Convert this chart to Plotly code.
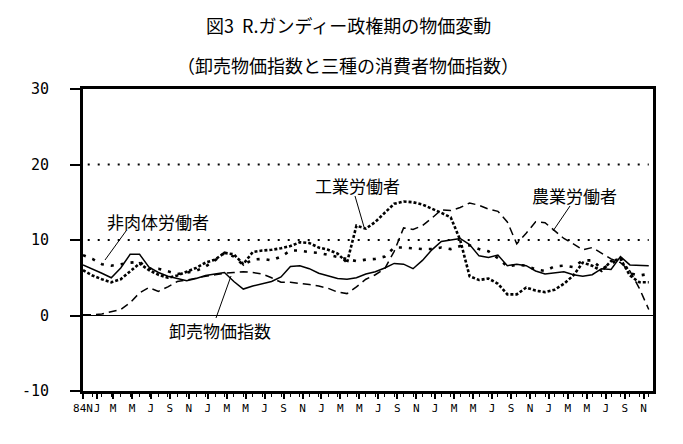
import plotly.graph_objects as go

# months since Nov 1984 (0 = 84N)
months = list(range(61))

wpi = [6.7, 6.2, 5.6, 5.0, 6.3, 8.1, 8.1, 6.4, 5.7, 5.2, 4.9, 4.6, 4.9, 5.3, 5.5, 5.7, 4.5, 3.5, 3.9, 4.2,
       4.5, 5.1, 6.5, 6.6, 6.2, 5.6, 5.2, 4.9, 4.8, 5.0, 5.5, 5.8, 6.3, 6.9, 6.8, 6.2, 7.3, 8.7, 9.8, 10.0,
       10.2, 9.4, 7.9, 7.7, 8.0, 6.6, 6.8, 6.6, 5.9, 5.5, 5.6, 5.8, 5.4, 5.2, 5.4, 6.2, 6.1, 7.8, 6.7, 6.6, 6.6]

cpi_industrial = [6.0, 5.3, 4.8, 4.4, 4.8, 5.8, 6.9, 6.0, 5.4, 5.0, 5.3, 5.8, 6.3, 7.0, 7.4, 8.3, 8.1, 6.8, 8.4, 8.6,
                  8.7, 8.9, 9.2, 9.7, 9.6, 9.0, 8.7, 8.2, 7.0, 11.9, 11.5, 12.4, 13.6, 14.8, 15.1, 15.0, 14.7, 14.2, 13.6, 13.0,
                  10.0, 5.2, 4.7, 4.9, 4.2, 2.8, 2.8, 3.7, 3.3, 3.1, 3.4, 4.2, 5.3, 7.0, 6.6, 5.9, 7.2, 7.5, 5.3, 4.4, 4.4]

cpi_nonmanual = [8.0, 7.5, 6.8, 6.6, 6.8, 7.0, 7.1, 6.2, 6.2, 5.9, 5.5, 5.7, 5.9, 6.5, 7.3, 8.3, 7.8, 6.7, 7.4, 7.5,
                 7.3, 7.8, 8.6, 8.6, 8.4, 8.3, 8.0, 7.7, 7.4, 7.2, 7.4, 7.5, 7.8, 9.0, 9.0, 8.9, 8.8, 8.8, 9.0, 8.8,
                 9.2, 9.3, 8.8, 8.5, 7.6, 6.5, 6.7, 6.6, 6.1, 5.9, 6.5, 6.6, 6.4, 7.3, 7.3, 6.2, 6.8, 7.7, 5.6, 5.3, 5.5]

cpi_agri = [0.1, 0.1, 0.2, 0.5, 0.8, 1.7, 3.0, 3.7, 3.2, 3.8, 4.5, 4.7, 5.0, 5.2, 5.4, 5.6, 5.7, 5.8, 5.7, 5.5,
            5.0, 4.4, 4.4, 4.3, 4.1, 3.9, 3.6, 3.1, 2.9, 3.8, 4.8, 5.4, 6.2, 8.5, 11.6, 11.4, 11.9, 12.9, 14.0, 13.9,
            14.3, 14.9, 14.6, 14.1, 13.8, 12.4, 9.5, 10.9, 12.4, 12.3, 11.3, 10.2, 9.5, 8.7, 9.0, 8.2, 7.5, 7.0, 5.9, 3.6, 0.8]

x_labels = ["84N"] + ["J", "M", "M", "J", "S", "N"] * 5
y_ticks = [-10, 0, 10, 20, 30]
ref_levels = [10, 20]

title = "図3  R.ガンディー政権期の物価変動"
subtitle = "（卸売物価指数と三種の消費者物価指数）"

W, H = 683, 444
L, R, T, B = 75, 38, 81, 61
PW, PH = W - L - R, H - T - B


def px(x):
    return (x - L) / PW


def py(y):
    return (H - B - y) / PH


fig = go.Figure()
fig.add_trace(go.Scatter(x=months, y=wpi, mode="lines", name="卸売物価指数",
                         line=dict(color="black", width=1.5)))
fig.add_trace(go.Scatter(x=months, y=cpi_industrial, mode="lines", name="工業労働者",
                         line=dict(color="black", width=2.6, dash="3px,2px")))
fig.add_trace(go.Scatter(x=months, y=cpi_nonmanual, mode="lines", name="非肉体労働者",
                         line=dict(color="black", width=2.6, dash="3px,7px")))
fig.add_trace(go.Scatter(x=months, y=cpi_agri, mode="lines", name="農業労働者",
                         line=dict(color="black", width=1.5, dash="8px,5px")))

tickvals = [0.0] + [1.17 + 2.01 * k for k in range(len(x_labels) - 1)]
tickvals[1] = 1.5

fig.update_xaxes(range=[0, 60.45], tickvals=tickvals, ticktext=x_labels, tickangle=0,
                 ticks="outside", ticklen=5, tickwidth=1.5, tickcolor="black",
                 minor=dict(dtick=1, tick0=0, ticks="outside", ticklen=3, tickcolor="black", tickwidth=1),
                 showgrid=False, zeroline=False,
                 showline=True, linecolor="black", linewidth=2.5, mirror=True,
                 tickfont=dict(family="DejaVu Sans Mono", size=11, color="black"))
fig.update_yaxes(range=[-10, 30], tickvals=y_ticks, ticktext=[str(v) for v in y_ticks],
                 ticks="outside", ticklen=10, tickwidth=1.5, tickcolor="black",
                 showgrid=False, zeroline=False,
                 showline=True, linecolor="black", linewidth=3, mirror=True,
                 ticklabelstandoff=18,
                 tickfont=dict(family="DejaVu Sans Mono", size=15, color="black"))

fig.add_shape(type="line", xref="paper", yref="y", x0=0, x1=1, y0=0, y1=0,
              line=dict(color="black", width=1))
for lv in ref_levels:
    fig.add_shape(type="line", xref="x", yref="y", x0=0.5, x1=60, y0=lv, y1=lv,
                  line=dict(color="black", width=1.8, dash="2px,8px"))

ann_font = dict(family="Noto Sans CJK JP", size=17, color="black")
anns = [
    dict(text="非肉体労働者", x=150, y=213),
    dict(text="工業労働者", x=349, y=177),
    dict(text="農業労働者", x=566, y=187),
    dict(text="卸売物価指数", x=212, y=322),
]
for a in anns:
    fig.add_annotation(text=a["text"], xref="paper", yref="paper",
                       x=px(a["x"]), y=py(a["y"]), xanchor="center", yanchor="middle",
                       showarrow=False, font=ann_font)

pointers = [((118, 223), (97, 252)), ((347, 188), (356, 219)), ((562, 198), (545, 223)), ((208, 310), (223, 268))]
for (x0, y0), (x1, y1) in pointers:
    fig.add_shape(type="line", xref="paper", yref="paper",
                  x0=px(x0), y0=py(y0), x1=px(x1), y1=py(y1),
                  line=dict(color="black", width=1))

fig.add_annotation(text=title, xref="paper", yref="paper", x=px(340), y=py(17),
                   xanchor="center", yanchor="middle", showarrow=False,
                   font=dict(family="Noto Sans CJK JP", size=18, color="black"))
fig.add_annotation(text=subtitle, xref="paper", yref="paper", x=px(340), y=py(57),
                   xanchor="center", yanchor="middle", showarrow=False,
                   font=dict(family="Noto Sans CJK JP", size=18, color="black"))

fig.update_layout(width=W, height=H, margin=dict(l=L, r=R, t=T, b=B),
                  paper_bgcolor="white", plot_bgcolor="white", showlegend=False)

fig.write_html("out.html")
